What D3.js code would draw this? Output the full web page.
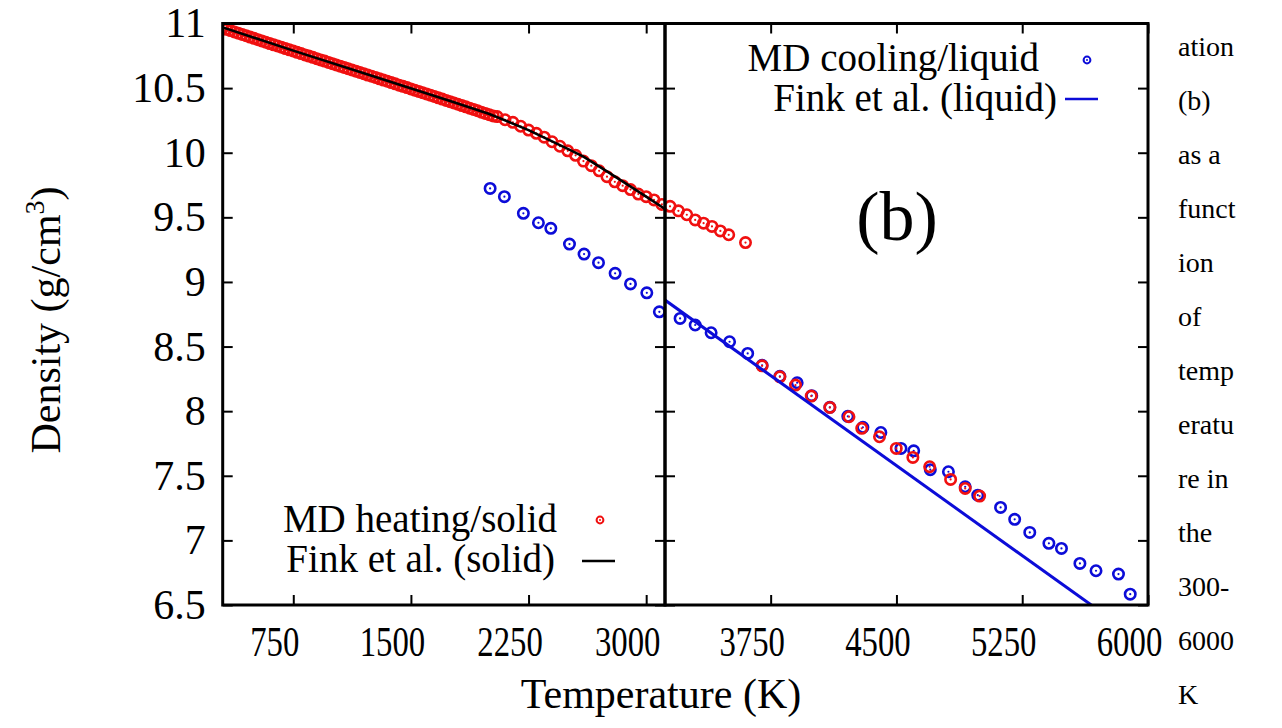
<!DOCTYPE html>
<html>
<head>
<meta charset="utf-8">
<script src="https://cdn.jsdelivr.net/npm/d3@7"></script>
<style>
  body { margin: 0; background: #fff; }
</style>
</head>
<body>
<svg width="1282" height="728"></svg>
<script>
// MD heating / solid (300 K .. 3600 K), density in g/cm3
const heatT = [300,325,350,375,400,425,450,475,500,525,550,575,600,625,650,675,700,725,750,775,800,825,850,875,900,925,950,975,
  1000,1025,1050,1075,1100,1125,1150,1175,1200,1225,1250,1275,1300,1325,1350,1375,1400,1425,1450,1475,1500,1525,1550,1575,
  1600,1625,1650,1675,1700,1725,1750,1775,1800,1825,1850,1875,1900,1925,1950,1975,2000,2025,
  2050,2100,2150,2200,2250,2300,2350,2400,2450,2500,2550,2600,2650,2700,2750,2800,2850,2900,2950,3000,3050,3100,
  3150,3200,3250,3300,3350,3400,3450,3500,3600];
const heatRho = [10.965,10.955,10.945,10.935,10.925,10.915,10.905,10.895,10.885,10.875,10.865,10.855,10.845,10.835,10.826,10.816,
  10.806,10.796,10.787,10.777,10.767,10.757,10.748,10.738,10.728,10.718,10.709,10.699,10.689,10.679,10.670,10.660,10.650,10.640,
  10.631,10.621,10.611,10.601,10.592,10.582,10.572,10.562,10.553,10.543,10.533,10.523,10.514,10.504,10.494,10.484,10.474,10.464,
  10.455,10.445,10.435,10.425,10.415,10.405,10.395,10.385,10.375,10.365,10.355,10.345,10.335,10.325,10.314,10.304,10.294,10.285,
  10.28,10.255,10.235,10.205,10.175,10.15,10.12,10.085,10.05,10.015,9.98,9.935,9.90,9.86,9.815,9.775,9.745,9.715,9.68,9.66,9.635,9.60,
  9.585,9.55,9.52,9.48,9.455,9.43,9.395,9.365,9.305];

// MD heating, liquid branch (right panel)
const heatLiqT = [3699,3805,3898,3992,4103,4217,4293,4399,4499,4598,4698,4823,4910,4996];
const heatLiqRho = [8.351,8.266,8.202,8.117,8.029,7.957,7.867,7.802,7.712,7.642,7.570,7.472,7.402,7.343];

// MD cooling / liquid
const coolT = [2005,2096,2217,2313,2392,2511,2604,2696,2802,2900,3004,3084,
  3210,3300,3395,3505,3613,3699,3805,3908,3995,4103,4210,4300,4407,4527,4603,4702,4810,4910,4985,
  5121,5205,5295,5409,5484,5594,5690,5824,5894];
const coolRho = [9.724,9.66,9.531,9.458,9.415,9.293,9.216,9.149,9.067,8.985,8.916,8.769,
  8.718,8.667,8.607,8.537,8.447,8.355,8.27,8.22,8.12,8.03,7.96,7.875,7.835,7.712,7.693,7.547,7.531,7.415,7.35,
  7.255,7.163,7.062,6.977,6.938,6.822,6.765,6.739,6.584];

// Fink et al. recommended curves
const finkSolidT = [300,750,1250,1750,2000,2250,2500,2600,2750,3000,3120];
const finkSolidRho = [10.97,10.79,10.595,10.40,10.30,10.175,10.03,9.97,9.855,9.66,9.565];
const finkLiqT = [3120,6000];
const finkLiqRho = [8.86,6.186];

const xTicksLeft = [750,1500,2250,3000];
const xTicksRight = [3750,4500,5250,6000];
const yTicks = [6.5,7,7.5,8,8.5,9,9.5,10,10.5,11];
const rightNote = ['ation','(b)','as a','funct','ion','of','temp','eratu','re in','the','300-','6000','K'];

const RED = '#f01010', BLUE = '#0c0cd8';
const FONT = "'Liberation Serif', 'DejaVu Serif', 'Times New Roman', serif";

const svg = d3.select('svg');
const plotTop = 23.5, plotBottom = 605;
const leftX0 = 222.7, midX = 665, rightX1 = 1148;

const xLeft = d3.scaleLinear().domain([300, 3120]).range([leftX0, midX]);
const xRight = d3.scaleLinear().domain([3120, 6000]).range([midX, rightX1]);
const y = d3.scaleLinear().domain([6.5, 11]).range([plotBottom, plotTop]);
const xPos = t => t <= 3120 ? xLeft(t) : xRight(t);

const zip = (a, b) => a.map((v, i) => [v, b[i]]);

// clip areas for each panel
const defs = svg.append('defs');
defs.append('clipPath').attr('id', 'clipL').append('rect')
  .attr('x', leftX0).attr('y', plotTop).attr('width', midX - leftX0).attr('height', plotBottom - plotTop);
defs.append('clipPath').attr('id', 'clipR').append('rect')
  .attr('x', midX).attr('y', plotTop).attr('width', rightX1 - midX).attr('height', plotBottom - plotTop);

// axes with inward ticks
const axisStyle = g => {
  g.select('.domain').remove();
  g.selectAll('.tick line').attr('stroke', '#000').attr('stroke-width', 2);
  g.selectAll('.tick text').style('font-size', '42px').attr('fill', '#000');
};
// x labels are narrow in the original and sit a little left of their ticks
const xLabelStyle = g => g.selectAll('.tick text').attr('transform', 'translate(-19,0) scale(0.78,1)');

svg.append('g').attr('transform', `translate(0,${plotBottom})`)
  .call(d3.axisBottom(xLeft).tickValues(xTicksLeft).tickSizeInner(-10).tickSizeOuter(0).tickPadding(21).tickFormat(d3.format('d')))
  .call(axisStyle).call(xLabelStyle);
svg.append('g').attr('transform', `translate(0,${plotBottom})`)
  .call(d3.axisBottom(xRight).tickValues(xTicksRight).tickSizeInner(-10).tickSizeOuter(0).tickPadding(21).tickFormat(d3.format('d')))
  .call(axisStyle).call(xLabelStyle);
svg.append('g').attr('transform', `translate(0,${plotTop})`)
  .call(d3.axisTop(xLeft).tickValues(xTicksLeft).tickSizeInner(-10).tickSizeOuter(0).tickFormat(''))
  .call(axisStyle);
svg.append('g').attr('transform', `translate(0,${plotTop})`)
  .call(d3.axisTop(xRight).tickValues(xTicksRight).tickSizeInner(-10).tickSizeOuter(0).tickFormat(''))
  .call(axisStyle);

svg.append('g').attr('transform', `translate(${leftX0},0)`)
  .call(d3.axisLeft(y).tickValues(yTicks).tickSizeInner(-10).tickSizeOuter(0).tickPadding(17).tickFormat(d3.format('')))
  .call(axisStyle);
svg.append('g').attr('transform', `translate(${midX},0)`)
  .call(d3.axisRight(y).tickValues(yTicks).tickSizeInner(-10).tickSizeOuter(0).tickFormat(''))
  .call(axisStyle);
svg.append('g').attr('transform', `translate(${midX},0)`)
  .call(d3.axisLeft(y).tickValues(yTicks).tickSizeInner(-10).tickSizeOuter(0).tickFormat(''))
  .call(axisStyle);
svg.append('g').attr('transform', `translate(${rightX1},0)`)
  .call(d3.axisRight(y).tickValues(yTicks).tickSizeInner(-10).tickSizeOuter(0).tickFormat(''))
  .call(axisStyle);

// circle-with-dot markers
const drawPoints = (g, data, color) => {
  const p = g.selectAll(null).data(data).enter().append('g')
    .attr('transform', d => `translate(${xPos(d[0])},${y(d[1])})`);
  p.append('circle').attr('r', 5.2).attr('fill', 'none').attr('stroke', color).attr('stroke-width', 2.6);
  p.append('circle').attr('r', 1.1).attr('fill', color);
};

const line = d3.line().x(d => xPos(d[0])).y(d => y(d[1]));

const gL = svg.append('g').attr('clip-path', 'url(#clipL)');
const gR = svg.append('g').attr('clip-path', 'url(#clipR)');

const cool = zip(coolT, coolRho);
const heat = zip(heatT, heatRho);
drawPoints(gL, cool.filter(d => d[0] <= 3120), BLUE);
drawPoints(gL, heat.filter(d => d[0] <= 3120), RED);
drawPoints(gR, cool.filter(d => d[0] > 3120), BLUE);
drawPoints(gR, heat.filter(d => d[0] > 3120), RED);
drawPoints(gR, zip(heatLiqT, heatLiqRho), RED);

gL.append('path').datum(zip(finkSolidT, finkSolidRho)).attr('d', line)
  .attr('fill', 'none').attr('stroke', '#000').attr('stroke-width', 2.6);
gR.append('path').datum(zip(finkLiqT, finkLiqRho)).attr('d', line)
  .attr('fill', 'none').attr('stroke', BLUE).attr('stroke-width', 3);

// panel frames
svg.append('rect').attr('x', leftX0).attr('y', plotTop).attr('width', midX - leftX0).attr('height', plotBottom - plotTop)
  .attr('fill', 'none').attr('stroke', '#000').attr('stroke-width', 3);
svg.append('rect').attr('x', midX).attr('y', plotTop).attr('width', rightX1 - midX).attr('height', plotBottom - plotTop)
  .attr('fill', 'none').attr('stroke', '#000').attr('stroke-width', 3);

// legends
const legendMarker = (cx, cy, color) => {
  svg.append('circle').attr('cx', cx).attr('cy', cy).attr('r', 3.4)
    .attr('fill', 'none').attr('stroke', color).attr('stroke-width', 2);
  svg.append('circle').attr('cx', cx).attr('cy', cy).attr('r', 1).attr('fill', color);
};
const legendText = (x, yy, s) => svg.append('text').attr('x', x).attr('y', yy)
  .attr('text-anchor', 'end').style('font-size', '39px').text(s);

legendText(557, 532, 'MD heating/solid');
legendMarker(600, 520, RED);
legendText(555, 572, 'Fink et al. (solid)');
svg.append('line').attr('x1', 582).attr('x2', 615).attr('y1', 561).attr('y2', 561)
  .attr('stroke', '#000').attr('stroke-width', 2.6);

legendText(1039, 71, 'MD cooling/liquid');
legendMarker(1087, 60, BLUE);
legendText(1057, 111, 'Fink et al. (liquid)');
svg.append('line').attr('x1', 1065).attr('x2', 1098).attr('y1', 99).attr('y2', 99)
  .attr('stroke', BLUE).attr('stroke-width', 2.6);

// panel label
svg.append('text').attr('x', 897).attr('y', 240).attr('text-anchor', 'middle')
  .style('font-size', '70px').text('(b)');

// axis titles
svg.append('text').attr('x', 661).attr('y', 708).attr('text-anchor', 'middle')
  .style('font-size', '42px').text('Temperature (K)');
const yt = svg.append('text').attr('transform', 'translate(60,320) rotate(-90)')
  .attr('text-anchor', 'middle').style('font-size', '42px');
yt.append('tspan').text('Density (g/cm');
yt.append('tspan').attr('dy', -16).style('font-size', '28px').text('3');
yt.append('tspan').attr('dy', 16).text(')');

// caption fragment on the right
svg.append('g').selectAll('text').data(rightNote).enter().append('text')
  .attr('x', 1178).attr('y', (d, i) => 56 + i * 54)
  .style('font-size', '28px').text(d => d);

svg.selectAll('text').style('font-family', FONT).attr('fill', '#000');
</script>
</body>
</html>
